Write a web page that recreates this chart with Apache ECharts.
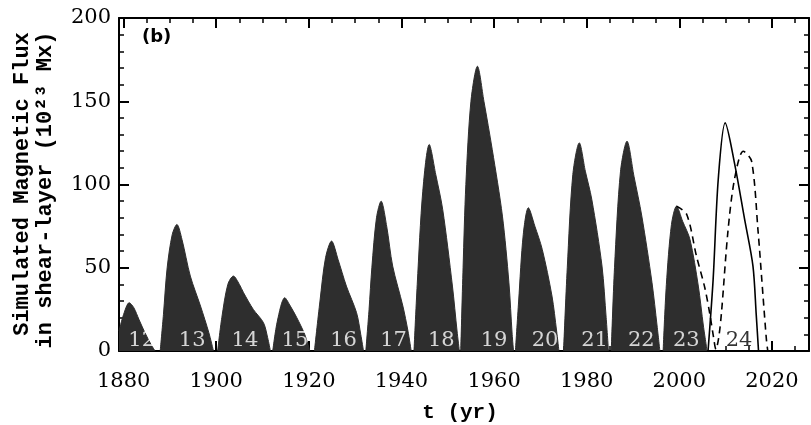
<!DOCTYPE html>
<html>
<head>
<meta charset="utf-8">
<script src="https://cdn.jsdelivr.net/npm/echarts@6/dist/echarts.min.js"></script>
<style>
html,body{margin:0;padding:0;background:#fff;}
#chart{width:811px;height:425px;}
</style>
</head>
<body>
<div id="chart"></div>
<script>
// ---- data (year, simulated flux) ----
const cycle12 = [[1879,12],[1880,22],[1881.2,29],[1882.2,26],[1883.3,19],[1884.6,11],[1885.9,4],[1886.8,0]];
const cycle13 = [[1887.9,0],[1888.6,22],[1889.4,50],[1890.5,70],[1891.5,76],[1892.6,67],[1894.4,45],[1896.6,27],[1898.4,11],[1899.4,0]];
const cycle14 = [[1900.3,0],[1901.2,20],[1902.5,40],[1903.7,45],[1905.0,40],[1905.9,35],[1908.0,25],[1910.2,17],[1911.1,8],[1911.7,0]];
const cycle15 = [[1912.2,0],[1913.2,18],[1914.8,32],[1916.0,27],[1917.4,20],[1919.1,10],[1920.2,0]];
const cycle16 = [[1921.2,0],[1922.4,30],[1923.6,56],[1924.9,66],[1926.3,55],[1928.1,39],[1930.3,23],[1931.2,10],[1931.8,0]];
const cycle17 = [[1932.3,0],[1933.0,25],[1933.6,50],[1934.6,80],[1935.6,90],[1936.8,75],[1938.1,51],[1940.3,27],[1941.4,12],[1942.1,0]];
const cycle18 = [[1942.7,0],[1943.4,40],[1944.6,96],[1946.0,124],[1947.4,106],[1948.9,85],[1951.0,39],[1952.0,12],[1952.5,0]];
const cycle19 = [[1952.8,0],[1953.3,50],[1953.9,100],[1955.0,150],[1956.4,171],[1957.8,150],[1959.6,121],[1961.8,81],[1963.2,41],[1963.9,10],[1964.2,0]];
const cycle20 = [[1964.6,0],[1965.3,30],[1966.3,70],[1967.4,86],[1968.8,75],[1970.4,61],[1972.5,33],[1973.5,12],[1974.0,0]];
const cycle21 = [[1975.0,0],[1975.8,50],[1977.0,106],[1978.4,125],[1979.7,108],[1981.1,91],[1983.3,51],[1984.2,20],[1984.7,0]];
const cycle22 = [[1985.3,0],[1986.0,50],[1987.3,108],[1988.7,126],[1990.2,105],[1991.9,81],[1994.1,41],[1995.2,15],[1995.8,0]];
const cycle23 = [[1996.5,0],[1997.2,40],[1998.3,76],[1999.4,87],[2000.7,78],[2002.3,67],[2004.1,39],[2005.2,15],[2006.0,0]];
const cycle24Solid = [[2006.2,0],[2007.3,43],[2008.4,103],[2009.9,137],[2011.9,113],[2014.1,79],[2015.9,51],[2016.6,22],[2017.1,0]];
const predictionDashed = [[1999.4,87],[2001.6,82],[2003.7,57],[2005.5,38],[2006.6,22],[2007.4,8],[2007.9,1],[2008.5,8],[2009.1,23],[2010.5,72],[2011.9,103],[2013.8,120],[2015.6,114],[2017.0,72],[2018.1,32],[2018.8,7],[2019.1,0]];

const cycleNames = ['12','13','14','15','16','17','18','19','20','21','22','23','24'];
const cycleLabelYears = [1883.9,1894.8,1906.2,1917.0,1927.5,1938.3,1948.6,1960.0,1971.0,1981.7,1991.8,2001.5,2012.9];
const xTickLabels = [1880,1900,1920,1940,1960,1980,2000,2020];
const xMinorTicks = [1880,1885,1890,1895,1900,1905,1910,1915,1920,1925,1930,1935,1940,1945,1950,1955,1960,1965,1970,1975,1980,1985,1990,1995,2000,2005,2010,2015,2020,2025];

const fillColor = '#2e2e2e';
const numFont = 'DejaVu Serif';
const titleFont = 'Liberation Mono';

const filled = [cycle12,cycle13,cycle14,cycle15,cycle16,cycle17,cycle18,cycle19,cycle20,cycle21,cycle22,cycle23];

const series = filled.map(d => ({
  type: 'line', data: d, smooth: 0.3, symbol: 'none',
  lineStyle: {color: fillColor, width: 1},
  areaStyle: {color: fillColor, opacity: 1},
  silent: true, z: 2
}));
series.push({
  type: 'line', data: cycle24Solid, smooth: 0.3, symbol: 'none',
  lineStyle: {color: '#000', width: 1.6}, silent: true, z: 3
});
series.push({
  type: 'line', data: predictionDashed, smooth: 0.3, symbol: 'none',
  lineStyle: {color: '#000', width: 1.6, type: [7, 5]}, silent: true, z: 3
});
series.push({
  type: 'scatter', symbolSize: 1, itemStyle: {color: 'rgba(0,0,0,0)'}, silent: true, z: 5,
  data: cycleNames.map((n, i) => ({
    value: [cycleLabelYears[i], 6.5, n],
    label: {color: n === '24' ? '#000' : '#fff'}
  })),
  label: {show: true, position: 'inside', formatter: p => p.value[2],
          fontFamily: numFont, fontSize: 21}
});

const axisLine = {show: true, lineStyle: {color: '#000', width: 2}};
const gridBox = {left: 119, right: 2, top: 18, bottom: 74};

const option = {
  animation: false,
  backgroundColor: '#fff',
  grid: gridBox,
  xAxis: [
    {type: 'value', min: 1879, max: 2028, position: 'bottom',
     axisLine: axisLine, splitLine: {show: false},
     axisTick: {show: true, inside: true, length: 10, customValues: xTickLabels, lineStyle: {color: '#000', width: 2}},
     axisLabel: {customValues: xTickLabels, formatter: v => String(v), margin: 20, color: '#000', fontFamily: numFont, fontSize: 21}},
    {type: 'value', min: 1879, max: 2028, position: 'bottom',
     axisLine: {show: false}, splitLine: {show: false}, axisLabel: {show: false},
     axisTick: {show: true, inside: true, length: 5, customValues: xMinorTicks, lineStyle: {color: '#000', width: 1.5}}},
    {type: 'value', min: 1879, max: 2028, position: 'top',
     axisLine: axisLine, splitLine: {show: false}, axisLabel: {show: false},
     axisTick: {show: true, inside: true, length: 10, customValues: xTickLabels, lineStyle: {color: '#000', width: 2}}},
    {type: 'value', min: 1879, max: 2028, position: 'top',
     axisLine: {show: false}, splitLine: {show: false}, axisLabel: {show: false},
     axisTick: {show: true, inside: true, length: 5, customValues: xMinorTicks, lineStyle: {color: '#000', width: 1.5}}}
  ],
  yAxis: [
    {type: 'value', min: 0, max: 200, interval: 50, position: 'left',
     axisLine: axisLine, splitLine: {show: false},
     axisTick: {show: true, inside: true, length: 10, lineStyle: {color: '#000', width: 2}},
     minorTick: {show: true, splitNumber: 5, length: 5, lineStyle: {color: '#000', width: 1.5}},
     axisLabel: {margin: 8, color: '#000', fontFamily: numFont, fontSize: 21}},
    {type: 'value', min: 0, max: 200, interval: 50, position: 'right',
     axisLine: axisLine, splitLine: {show: false}, axisLabel: {show: false},
     axisTick: {show: true, inside: true, length: 10, lineStyle: {color: '#000', width: 2}},
     minorTick: {show: true, splitNumber: 5, length: 5, lineStyle: {color: '#000', width: 1.5}}}
  ],
  series: series,
  graphic: [
    {type: 'text', left: 142, top: 28, z: 10,
     style: {text: '(b)', fontFamily: 'DejaVu Sans', fontWeight: 'bold', fontSize: 18, fill: '#000'}},
    {type: 'text', x: 22, y: 184, rotation: Math.PI / 2, z: 10,
     style: {text: 'Simulated Magnetic Flux', fontFamily: titleFont, fontWeight: 'bold', fontSize: 22,
             fill: '#000', align: 'center', verticalAlign: 'middle'}},
    {type: 'text', x: 45, y: 190, rotation: Math.PI / 2, z: 10,
     style: {text: 'in shear-layer (10²³ Mx)', fontFamily: titleFont, fontWeight: 'bold', fontSize: 22,
             fill: '#000', align: 'center', verticalAlign: 'middle'}},
    {type: 'text', x: 460, y: 413, z: 10,
     style: {text: 't (yr)', fontFamily: titleFont, fontWeight: 'bold', fontSize: 21,
             fill: '#000', align: 'center', verticalAlign: 'middle'}}
  ]
};

const chart = echarts.init(document.getElementById('chart'), null, {renderer: 'canvas'});
chart.setOption(option);
</script>
</body>
</html>
